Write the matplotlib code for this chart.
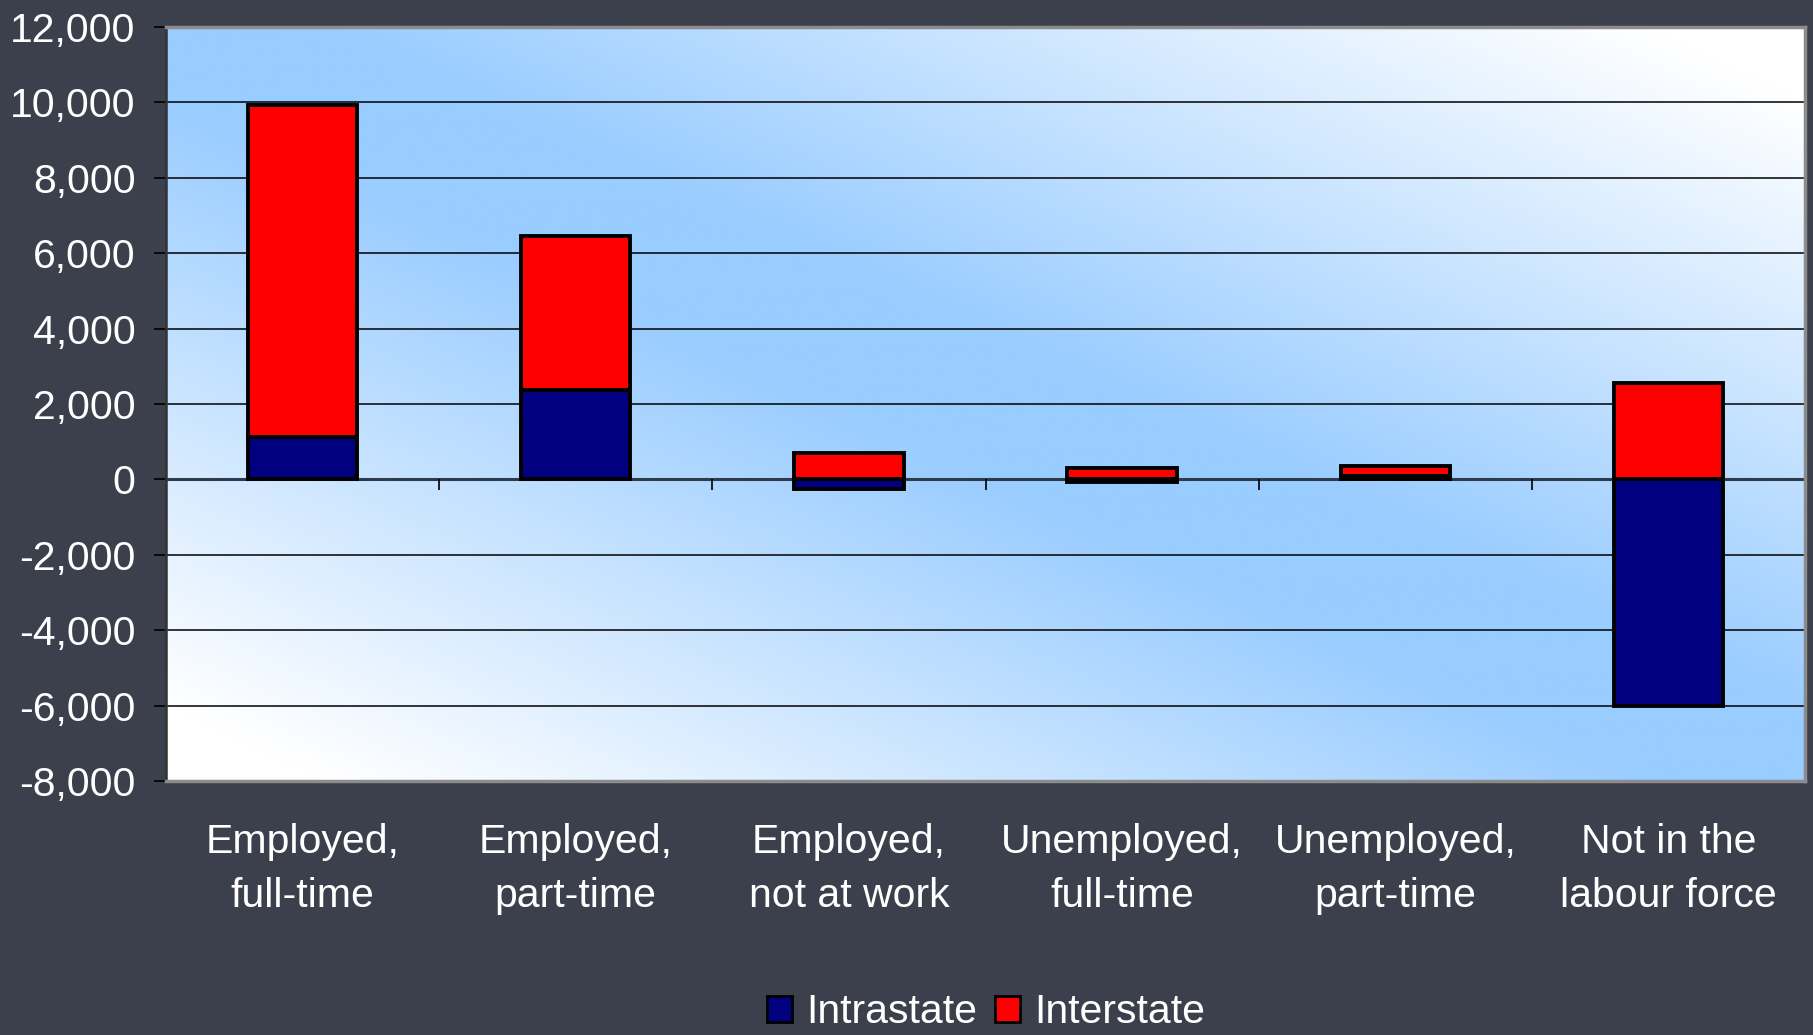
import numpy as np
import matplotlib.pyplot as plt
from matplotlib.colors import to_rgb
from matplotlib.patches import Patch

# data
categories = ['Employed,\nfull-time', 'Employed,\npart-time', 'Employed,\nnot at work',
              'Unemployed,\nfull-time', 'Unemployed,\npart-time', 'Not in the\nlabour force']
intrastate = [1130, 2360, -250, -70, 90, -6000]
interstate = [8800, 4100, 700, 300, 265, 2550]
yticks = [-8000, -6000, -4000, -2000, 0, 2000, 4000, 6000, 8000, 10000, 12000]

plt.rcParams['font.family'] = ['Liberation Sans', 'DejaVu Sans']

fig = plt.figure(figsize=(18.13, 10.35), dpi=100, facecolor='#3c404c')
ax = fig.add_axes([0.0916, 0.2454, 0.904, 0.7285])

# diagonal white -> blue -> white gradient behind the plot area
n = 300
u, v = np.meshgrid(np.linspace(0, 1, n), np.linspace(1, 0, n))
s = (u + v) / 2
t = np.clip(1 - np.abs(s - 0.5) / 0.45, 0, 1)
t = np.clip(t / 0.9, 0, 1)
blue = np.array(to_rgb('#99ccff'))
white = np.array([1.0, 1.0, 1.0])
grad = white * (1 - t[..., None]) + blue * t[..., None]
ax.imshow(grad, extent=[0, 1, 0, 1], transform=ax.transAxes, aspect='auto', zorder=0)

x = np.arange(len(categories))
intra = np.array(intrastate)
inter = np.array(interstate)
bottom_inter = np.maximum(intra, 0)

ax.bar(x, intra, width=0.4, color='#000080', edgecolor='black', linewidth=2.8, zorder=3)
ax.bar(x, inter, width=0.4, bottom=bottom_inter, color='#ff0000', edgecolor='black',
       linewidth=2.8, zorder=3)

for yv in yticks:
    if yv != 0:
        ax.axhline(yv, color='black', linewidth=1.1, zorder=1)
ax.axhline(0, color='#2e3b4a', linewidth=2.2, zorder=2)
ax.vlines(np.arange(len(categories)) + 0.5, -270, 0, color='black', linewidth=1.2, zorder=2)

ax.set_xlim(-0.5, len(categories) - 0.5)
ax.set_ylim(-8000, 12000)
ax.set_yticks(yticks)
ax.set_yticklabels([f'{y:,}' for y in yticks])
ax.set_xticks(x)
ax.set_xticklabels(categories, linespacing=1.55)

ax.tick_params(axis='y', colors='black', labelcolor='white', labelsize=29.5,
               length=9, width=1.2, pad=13, direction='out')
ax.tick_params(axis='x', labelcolor='white', labelsize=29.5, length=0, pad=30)

for side in ['top', 'right', 'bottom']:
    ax.spines[side].set_color('#8c8c8c')
    ax.spines[side].set_linewidth(2.5)
ax.spines['left'].set_color('#333333')
ax.spines['left'].set_linewidth(1.8)

handles = [Patch(facecolor='#000080', edgecolor='black', linewidth=2, label='Intrastate'),
           Patch(facecolor='#ff0000', edgecolor='black', linewidth=2, label='Interstate')]
fig.legend(handles=handles, loc='center', bbox_to_anchor=(0.544, 0.022), ncol=2,
           frameon=False, fontsize=29.5, labelcolor='white', handlelength=0.6,
           handleheight=0.6, handletextpad=0.35, columnspacing=0.45)

fig.savefig('out.png', dpi=100, facecolor=fig.get_facecolor())
